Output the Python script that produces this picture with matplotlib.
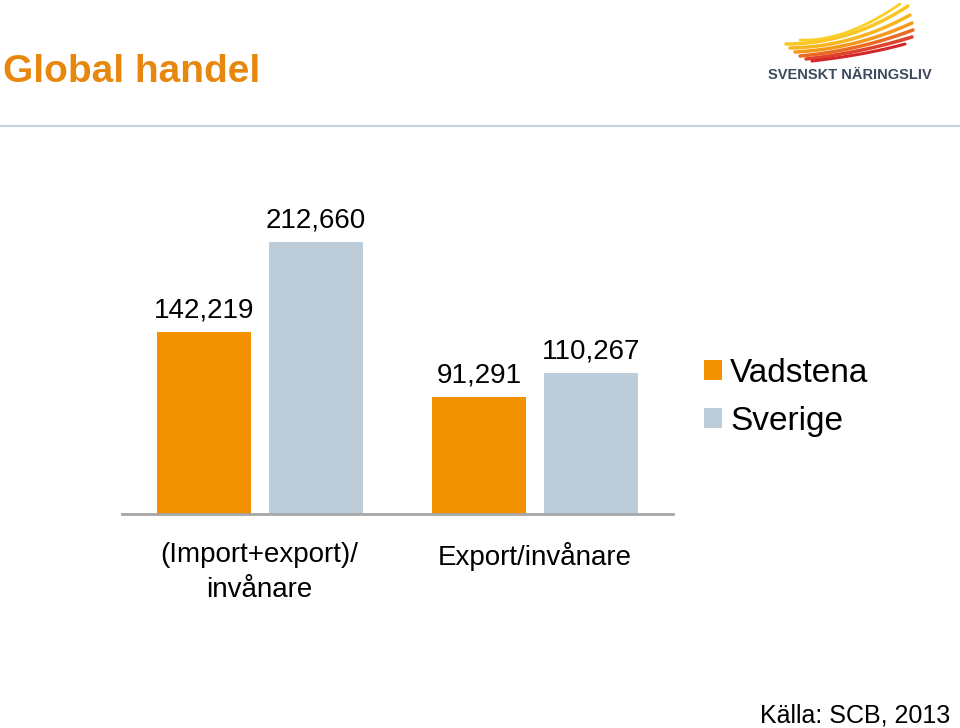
import numpy as np
import matplotlib
matplotlib.use("Agg")
from matplotlib import pyplot as plt
from matplotlib.lines import Line2D

plt.rcParams['font.family'] = ['Liberation Sans', 'DejaVu Sans']

categories = ["(Import+export)/\ninvånare", "Export/invånare"]
vadstena = [142219, 91291]
sverige = [212660, 110267]
series_names = ["Vadstena", "Sverige"]

orange = "#F39200"
grey = "#BDCCD9"

fig = plt.figure(figsize=(9.6, 7.28), dpi=100)

# title + rule
fig.text(0.003, 1 - 72 / 728, "Global handel", fontsize=28, fontweight="bold",
         color="#E8870E", va="center", ha="left")
fig.add_artist(Line2D([0, 1], [1 - 126 / 728] * 2, color="#C8D3DE", lw=1.5))

# main chart
ax = fig.add_axes([122 / 960, 1 - 514 / 728, 551 / 960, 320 / 728])
x = np.arange(len(categories))
w = 0.341
off = 0.203
b1 = ax.bar(x - off, vadstena, w, color=orange, label=series_names[0])
b2 = ax.bar(x + off, sverige, w, color=grey, label=series_names[1])
for b in (b1, b2):
    ax.bar_label(b, labels=[f"{v:,}" for v in b.datavalues], padding=6, fontsize=20)

ax.set_xlim(-0.5, 1.5)
ax.set_ylim(0, 212660 * 320 / 272)
ax.set_yticks([])
ax.set_xticks(x)
ax.set_xticklabels(categories, fontsize=20, linespacing=1.45)
ax.tick_params(axis="x", length=0, pad=20)
for s in ("top", "right", "left"):
    ax.spines[s].set_visible(False)
ax.spines["bottom"].set_color("#A6A6A6")
ax.spines["bottom"].set_linewidth(2)

ax.legend(loc="upper left", bbox_to_anchor=(704 / 960, 1 - 358 / 728),
          bbox_transform=fig.transFigure, frameon=False, fontsize=24,
          handlelength=0.55, handleheight=0.55, handletextpad=0.24,
          labelspacing=0.5, borderpad=0, borderaxespad=0)

# source
fig.text(950 / 960, 1 - 716 / 728, "Källa: SCB, 2013", fontsize=18,
         ha="right", va="center")

# logo
lg = fig.add_axes([760 / 960, 1 - 90 / 728, 200 / 960, 90 / 728])
lg.set_xlim(760, 960)
lg.set_ylim(90, 0)
lg.axis("off")
t = np.linspace(0, 1, 30)
feathers = [
    ((786, 44), (850, 44), (908, 6), "#F9C623", 2.5),
    ((790, 48), (852, 47), (910, 15), "#F7B51F", 2.5),
    ((795, 52), (855, 49), (912, 23), "#F39A1D", 2.5),
    ((800, 56), (857, 51), (913, 30), "#EB6A22", 2.5),
    ((806, 59), (860, 53), (912, 37), "#E0412A", 2.5),
    ((812, 61), (865, 55), (905, 44), "#D4262B", 2.2),
    ((800, 40), (845, 42), (900, 4), "#FBCF2A", 2.0),
]
for p0, p1, p2, c, lw in feathers:
    xs = (1 - t) ** 2 * p0[0] + 2 * (1 - t) * t * p1[0] + t ** 2 * p2[0]
    ys = (1 - t) ** 2 * p0[1] + 2 * (1 - t) * t * p1[1] + t ** 2 * p2[1]
    lg.plot(xs, ys, color=c, lw=lw, solid_capstyle="round")
lg.text(768, 75, "SVENSKT NÄRINGSLIV", fontsize=10.5, fontweight="bold",
        color="#3B4A5C", va="center", ha="left",
        family=["Liberation Sans Narrow", "Liberation Sans", "DejaVu Sans"])

fig.savefig("out.png", dpi=100)
